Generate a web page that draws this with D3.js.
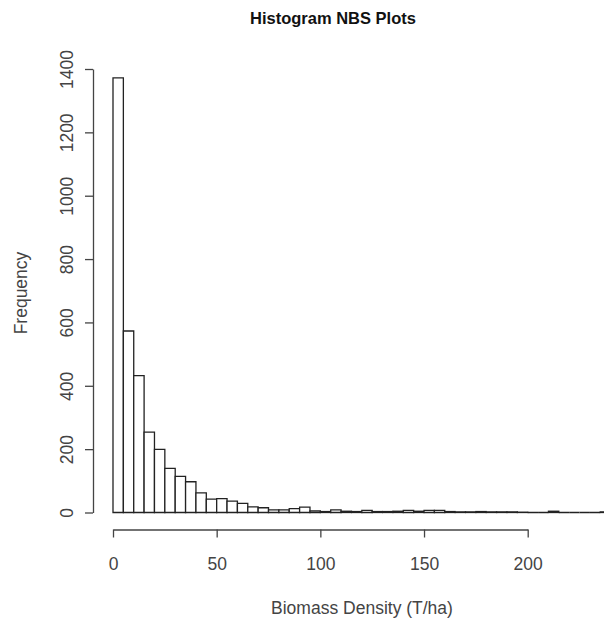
<!DOCTYPE html>
<html>
<head>
<meta charset="utf-8">
<script src="https://cdn.jsdelivr.net/npm/d3@7"></script>
<style>
  body { margin: 0; background: #fff; }
  svg { display: block; font-family: "Liberation Sans", Arial, sans-serif; }
</style>
</head>
<body>
<svg id="chart" width="604" height="624"></svg>
<script>
// histogram counts, bins of width 5 starting at 0
const binWidth = 5;
const counts = [1372, 573, 432, 254, 199, 139, 114, 97, 62, 42,
                44, 36, 29, 18, 15, 8, 8, 12, 17, 5,
                3, 8, 4, 3, 7, 3, 3, 4, 7, 4,
                7, 7, 3, 2, 2, 3, 2, 2, 2, 1,
                0, 0, 4, 0, 0, 0, 0, 2];
const xTicks = [0, 50, 100, 150, 200];
const yTicks = [0, 200, 400, 600, 800, 1000, 1200, 1400];

const title = "Histogram NBS Plots";
const xTitle = "Biomass Density (T/ha)";
const yTitle = "Frequency";

const bins = counts.map((c, i) => ({ x0: i * binWidth, x1: (i + 1) * binWidth, count: c }));

const svg = d3.select("#chart");

const x = d3.scaleLinear().domain([0, 200]).range([113, 527.7]);
const y = d3.scaleLinear().domain([0, 1400]).range([512.5, 69]);

// paths instead of rects so empty bins still show as a line, like R does
const binPath = d => {
    const p = d3.path();
    p.moveTo(x(d.x0), y(0));
    p.lineTo(x(d.x0), y(d.count));
    p.lineTo(x(d.x1), y(d.count));
    p.lineTo(x(d.x1), y(0));
    p.closePath();
    return p.toString();
};

svg.append("g")
    .selectAll("path")
    .data(bins)
    .join("path")
    .attr("d", binPath)
    .attr("fill", "#fff")
    .attr("stroke", "#222")
    .attr("stroke-width", 1.3);

const fmt = d3.format("d");

// y axis (R style, rotated labels)
const yAxis = svg.append("g")
    .attr("transform", "translate(93,0)")
    .call(d3.axisLeft(y).tickValues(yTicks).tickFormat(fmt).tickSize(8).tickSizeOuter(0).tickPadding(0));
yAxis.select(".domain").attr("stroke", "#444").attr("stroke-width", 1.3);
yAxis.selectAll(".tick line").attr("stroke", "#444").attr("stroke-width", 1.3);
yAxis.selectAll(".tick text")
    .attr("x", 0).attr("dy", null)
    .attr("transform", "translate(-20,0) rotate(-90)")
    .attr("text-anchor", "middle")
    .attr("fill", "#444")
    .style("font-size", "17.5px")
    .style("font-family", "Liberation Sans, Arial, sans-serif");

// x axis
const xAxis = svg.append("g")
    .attr("transform", "translate(0,529.5)")
    .call(d3.axisBottom(x).tickValues(xTicks).tickFormat(fmt).tickSize(8).tickSizeOuter(0).tickPadding(20));
xAxis.select(".domain").attr("stroke", "#444").attr("stroke-width", 1.3);
xAxis.selectAll(".tick line").attr("stroke", "#444").attr("stroke-width", 1.3);
xAxis.selectAll(".tick text")
    .attr("fill", "#444")
    .style("font-size", "17.5px")
    .style("font-family", "Liberation Sans, Arial, sans-serif");

svg.append("text")
    .attr("x", 333)
    .attr("y", 24)
    .attr("text-anchor", "middle")
    .style("font-size", "16.5px")
    .style("font-weight", "bold")
    .attr("fill", "#111")
    .text(title);

svg.append("text")
    .attr("x", 362)
    .attr("y", 614)
    .attr("text-anchor", "middle")
    .style("font-size", "17.5px")
    .attr("fill", "#444")
    .text(xTitle);

svg.append("text")
    .attr("transform", "translate(27,293) rotate(-90)")
    .attr("text-anchor", "middle")
    .style("font-size", "17.5px")
    .attr("fill", "#444")
    .text(yTitle);
</script>
</body>
</html>
